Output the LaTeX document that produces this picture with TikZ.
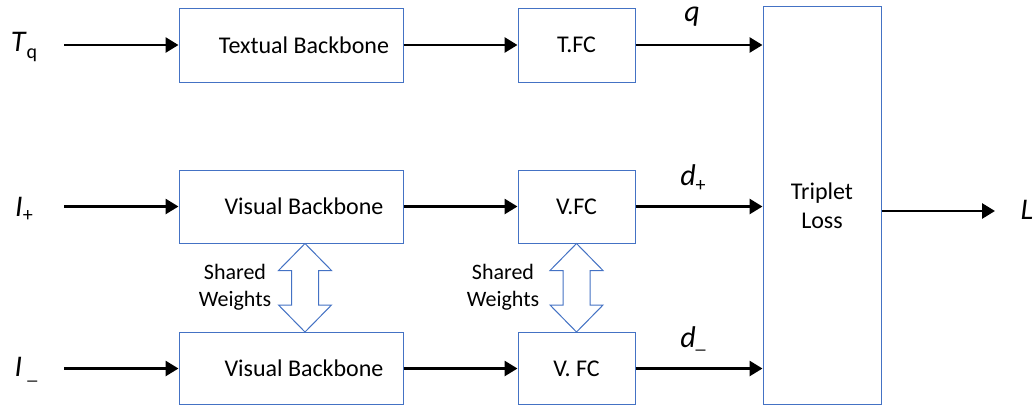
\documentclass[tikz,border=0pt]{standalone}
\usepackage{fontspec}
\setmainfont{Carlito}
\usetikzlibrary{arrows.meta,calc}
\definecolor{bx}{HTML}{4472C4}
\begin{document}
\begin{tikzpicture}[x=1pt,y=-1pt,
  box/.style={draw=bx, line width=1pt, fill=white, font=\fontsize{24}{29}\selectfont, inner sep=0pt},
  arr/.style={line width=2.8pt, -{Triangle[length=13pt,width=15pt]}},
  lbl/.style={font=\fontsize{30}{32}\selectfont, inner sep=0pt},
  sub/.style={},
  sw/.style={font=\fontsize{22}{27}\selectfont, align=center, inner sep=0pt},
  darr/.style={draw=bx, line width=1pt, fill=white, line join=miter}]
\newcommand{\subtxt}[2]{\raisebox{#1}{\fontsize{20}{20}\selectfont #2}}
\useasboundingbox (0,0) rectangle (1035,405);
% boxes
\node[box, minimum width=224pt, minimum height=74pt] (tb) at (291,45) {\hspace*{26pt}Textual Backbone};
\node[box, minimum width=117pt, minimum height=74pt] (tfc) at (576.5,45) {T.FC};
\node[box, minimum width=224pt, minimum height=73pt] (vb1) at (291,206.5) {\hspace*{26pt}Visual Backbone};
\node[box, minimum width=117pt, minimum height=73pt] (vfc1) at (576.5,206.5) {V.FC};
\node[box, minimum width=224pt, minimum height=72pt] (vb2) at (291,368.5) {\hspace*{26pt}Visual Backbone};
\node[box, minimum width=117pt, minimum height=72pt] (vfc2) at (576.5,368.5) {V. FC};
\node[box, minimum width=118pt, minimum height=398pt, align=center] (tl) at (822,205.5) {Triplet\\Loss};
% input labels
\node[lbl] (Tq) at (24,47) {\textit{T}\subtxt{-7pt}{q}};
\node[lbl] (Ip) at (24,209) {\textit{I}\subtxt{-5pt}{+}};
\node[lbl] (Im) at (26,370) {\textit{I}\,\subtxt{-3pt}{\_}};
\coordinate (s1) at (64,45);
\coordinate (s2) at (64,206.5);
\coordinate (s3) at (64,368.5);
\draw[arr] (s1) -- (tb.west);
\draw[arr] (s2) -- (vb1.west);
\draw[arr] (s3) -- (vb2.west);
% backbone to FC
\draw[arr] (tb.east) -- (tfc.west);
\draw[arr] (vb1.east) -- (vfc1.west);
\draw[arr] (vb2.east) -- (vfc2.west);
% FC to triplet
\draw[arr] (tfc.east) -- (tfc.east -| tl.west);
\draw[arr] (vfc1.east) -- (vfc1.east -| tl.west);
\draw[arr] (vfc2.east) -- (vfc2.east -| tl.west);
% output labels
\node[lbl] (q) at (692,17) {\textit{q}};
\node[lbl] (dp) at (693,178) {\textit{d}\subtxt{-6pt}{+}};
\node[lbl] (dm) at (693,339) {\textit{d}\subtxt{-1pt}{\_}};
% output
\node[lbl] (L) at (1027,210) {\textit{L}};
\coordinate (e) at (995,211);
\draw[arr] (tl.east |- e) -- (e);
% shared weights double arrows
\foreach \a/\b/\n in {vb1/vb2/1, vfc1/vfc2/2}{
  \coordinate (t\n) at (\a.south);
  \coordinate (u\n) at (\b.north);
}
\draw[darr] ($(t1)+(14,0)$) -- ++(26.5,27) -- ++(-13,0) -- ($(u1)+(27.5,-27)$) -- ++(13,0) -- ($(u1)+(14,0)$)
  -- ++(-26.5,-27) -- ++(13,0) -- ($(t1)+(0.5,27)$) -- ++(-13,0) -- cycle;
\draw[darr] (t2) -- ++(26.5,27) -- ++(-13,0) -- ($(u2)+(13.5,-27)$) -- ++(13,0) -- (u2)
  -- ++(-26.5,-27) -- ++(13,0) -- ($(t2)+(-13.5,27)$) -- ++(-13,0) -- cycle;
\node[sw] (sw1) at (235,287) {Shared\\Weights};
\node[sw] (sw2) at (503,287) {Shared\\Weights};
\end{tikzpicture}
\end{document}
